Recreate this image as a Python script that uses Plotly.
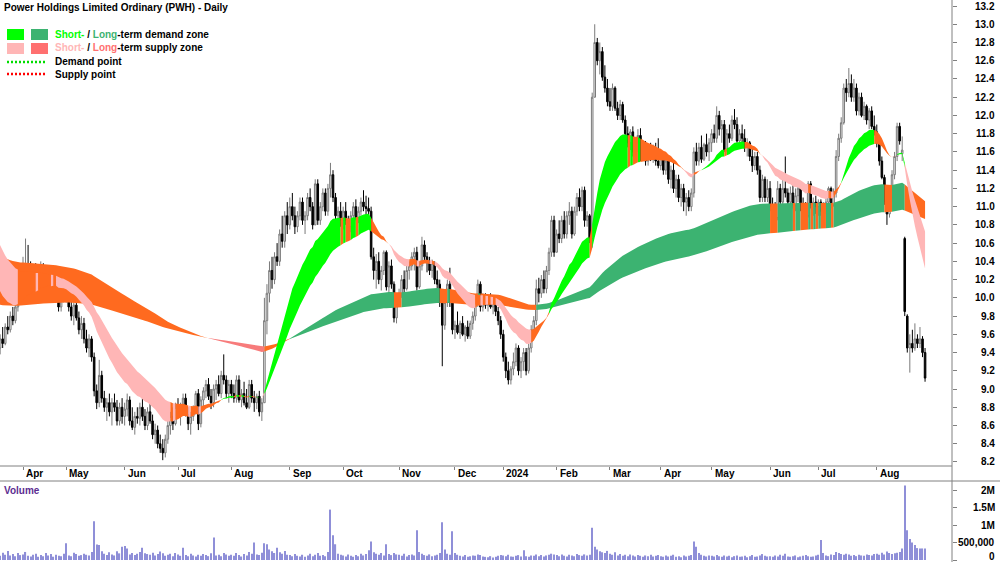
import numpy as np
import pandas as pd
import plotly.graph_objects as go

# ---------------- data ----------------
holidays = ["2023-04-07", "2023-04-10", "2023-04-25", "2023-06-12", "2023-12-25", "2023-12-26",
            "2024-01-01", "2024-01-26", "2024-03-29", "2024-04-01", "2024-04-25", "2024-06-10"]
dates = pd.bdate_range("2023-03-20", "2024-08-28", freq="C", holidays=holidays)

open_ = (
    [9.55, 9.45, 9.55, 9.50, 9.68, 9.65, 9.80, 9.75, 9.90, 10.05] +
    [10.00, 10.30, 10.36, 10.25, 10.15, 10.30, 10.05, 10.25, 10.35, 10.15, 10.20, 10.28, 10.05, 10.18, 10.12, 9.90, 10.05] +
    [10.10, 10.00, 9.90, 9.80, 9.92, 9.78, 9.65, 9.72, 9.55, 9.45, 9.55, 9.35, 8.98, 8.85, 9.15, 8.90, 8.80, 8.85, 8.75, 8.85, 8.80, 8.65, 8.80] +
    [8.70, 8.78, 8.88, 8.65, 8.58, 8.70, 8.68, 8.80, 8.70, 8.60, 8.75, 8.65, 8.50, 8.55, 8.40, 8.35, 8.30, 8.45, 8.60, 8.70, 8.62] +
    [8.80, 8.75, 8.82, 8.90, 8.72, 8.62, 8.70, 8.78, 8.95, 8.62, 8.88, 8.98, 9.05, 8.92, 8.85, 9.00, 9.05, 8.95, 9.15, 9.10, 8.95] +
    [9.05, 8.95, 8.90, 9.10, 8.88, 8.95, 8.85, 8.80, 9.05, 8.90, 8.85, 8.92, 8.75, 8.85, 9.75, 10.05, 10.30, 10.20, 10.45, 10.40, 10.70, 10.62, 10.90] +
    [10.80, 11.00, 10.90, 10.78, 10.90, 11.05, 10.85, 10.90, 11.10, 11.00, 10.80, 11.25, 10.85, 11.00, 11.15, 10.95, 11.20, 11.35, 11.10, 10.90, 10.95] +
    [10.85, 10.95, 10.85, 10.78, 10.90, 11.00, 10.88, 10.95, 11.05, 11.00, 10.98, 10.95, 10.45, 10.30, 10.40, 10.20, 10.30, 10.50, 10.12, 10.35, 10.15, 9.78] +
    [9.98, 10.05, 10.20, 10.10, 10.30, 10.35, 10.45, 10.50, 10.12, 10.35, 10.58, 10.45, 10.40, 10.30, 10.38, 10.20, 10.15, 9.95, 9.70, 9.95, 10.15, 9.95] +
    [9.65, 9.70, 9.62, 9.72, 9.60, 9.68, 9.58, 9.72, 9.80, 9.95, 10.15, 9.90, 10.00, 9.92, 9.98, 9.90, 9.95, 9.85, 9.75] +
    [9.60, 9.35, 9.20, 9.10, 9.22, 9.30, 9.45, 9.20, 9.30, 9.40, 9.20, 9.45, 9.65, 9.75, 10.10, 10.05, 10.20, 10.10, 10.30, 10.50, 10.85] +
    [10.50, 10.70, 10.65, 10.85, 10.70, 10.90, 10.95, 10.70, 10.95, 11.10, 11.00, 11.18, 10.85, 10.90, 10.65, 12.20, 12.80, 12.60, 12.70, 12.42, 12.30] +
    [12.15, 12.10, 12.30, 12.08, 12.00, 12.12, 11.95, 11.80, 11.70, 11.82, 11.60, 11.70, 11.78, 11.55, 11.65, 11.50, 11.60, 11.55, 11.62, 11.50] +
    [11.45, 11.55, 11.40, 11.50, 11.30, 11.40, 11.20, 11.30, 11.10, 11.20, 11.05, 11.10, 11.00, 11.15, 11.60, 11.50, 11.65, 11.52, 11.68, 11.60] +
    [11.70, 11.80, 11.75, 12.00, 11.85, 11.90, 11.62, 11.80, 11.75, 11.95, 11.90, 11.72, 11.80, 11.75, 11.65, 11.70, 11.55, 11.45, 11.55, 11.40, 11.10, 11.30, 11.10] +
    [11.20, 11.00, 10.90, 10.88, 11.20, 11.05, 11.20, 11.15, 11.05, 11.15, 11.02, 11.12, 11.20, 11.00, 10.95, 10.90, 11.25, 11.02, 11.05] +
    [11.00, 11.05, 10.95, 11.00, 11.05, 11.20, 11.02, 11.15, 11.55, 11.75, 11.92, 12.30, 12.25, 12.35, 12.20, 12.30, 12.05, 12.20, 12.00, 12.10, 11.95, 12.05, 11.88] +
    [11.82, 11.70, 11.50, 11.32, 11.05, 10.92, 11.10, 11.35, 11.55, 11.88, 11.58, 10.65, 9.80, 9.45, 9.50, 9.45, 9.55, 9.50, 9.55, 9.40]
)
high = (
    [9.70, 9.60, 9.68, 9.72, 9.80, 9.85, 9.90, 9.95, 10.10, 10.20] +
    [10.45, 10.65, 10.58, 10.40, 10.35, 10.38, 10.30, 10.40, 10.38, 10.28, 10.32, 10.30, 10.22, 10.30, 10.20, 10.10, 10.15] +
    [10.20, 10.12, 10.10, 9.95, 10.00, 9.85, 9.80, 9.78, 9.65, 9.60, 9.58, 9.40, 9.05, 9.32, 9.20, 8.98, 8.90, 8.95, 8.90, 8.95, 8.88, 8.85, 8.90] +
    [8.85, 8.95, 8.92, 8.80, 8.75, 8.80, 8.85, 8.90, 8.78, 8.80, 8.85, 8.72, 8.62, 8.60, 8.50, 8.45, 8.50, 8.65, 8.75, 8.80, 8.85] +
    [8.90, 8.85, 8.95, 8.95, 8.80, 8.75, 8.82, 8.98, 9.00, 8.92, 9.02, 9.10, 9.12, 9.00, 9.05, 9.10, 9.15, 9.20, 9.38, 9.15, 9.10] +
    [9.10, 9.05, 9.15, 9.15, 9.00, 9.08, 9.00, 9.10, 9.10, 8.98, 8.95, 8.98, 8.90, 10.00, 10.15, 10.40, 10.45, 10.50, 10.60, 10.75, 10.90, 10.95, 11.05] +
    [11.10, 11.15, 11.00, 10.95, 11.10, 11.10, 10.95, 11.15, 11.20, 11.05, 11.30, 11.30, 11.05, 11.20, 11.20, 11.25, 11.48, 11.40, 11.15, 11.00, 11.05] +
    [11.00, 11.05, 10.90, 10.95, 11.05, 11.08, 11.00, 11.10, 11.18, 11.12, 11.10, 11.00, 10.55, 10.48, 10.50, 10.35, 10.52, 10.52, 10.40, 10.42, 10.18, 10.05] +
    [10.10, 10.25, 10.30, 10.35, 10.40, 10.50, 10.55, 10.56, 10.40, 10.67, 10.63, 10.50, 10.45, 10.42, 10.40, 10.30, 10.20, 10.00, 10.05, 10.20, 10.33, 10.05] +
    [9.75, 9.85, 9.75, 9.80, 9.70, 9.75, 9.75, 9.85, 10.00, 10.20, 10.18, 10.05, 10.05, 10.02, 10.05, 10.00, 10.00, 9.90, 9.80] +
    [9.65, 9.40, 9.30, 9.25, 9.40, 9.50, 9.48, 9.35, 9.45, 9.45, 9.50, 9.70, 9.80, 10.20, 10.22, 10.25, 10.30, 10.35, 10.55, 10.90, 10.90] +
    [10.75, 10.85, 10.90, 10.95, 10.95, 11.05, 11.00, 11.00, 11.15, 11.20, 11.22, 11.22, 10.95, 10.92, 12.25, 13.00, 12.85, 12.80, 12.75, 12.55, 12.40] +
    [12.30, 12.35, 12.32, 12.15, 12.17, 12.15, 12.00, 11.88, 11.85, 11.88, 11.75, 11.85, 11.86, 11.70, 11.72, 11.65, 11.70, 11.68, 11.70, 11.75] +
    [11.60, 11.58, 11.55, 11.55, 11.45, 11.50, 11.35, 11.35, 11.25, 11.25, 11.15, 11.18, 11.20, 11.65, 11.70, 11.70, 11.78, 11.70, 11.80, 11.75] +
    [11.85, 11.90, 12.10, 12.05, 11.95, 11.95, 11.85, 11.90, 12.00, 12.07, 11.98, 11.85, 11.90, 11.85, 11.75, 11.72, 11.65, 11.60, 11.60, 11.45, 11.35, 11.33, 11.30] +
    [11.28, 11.10, 11.05, 11.28, 11.25, 11.30, 11.55, 11.20, 11.22, 11.25, 11.20, 11.28, 11.25, 11.10, 11.05, 11.28, 11.28, 11.10, 11.12] +
    [11.08, 11.08, 11.05, 11.10, 11.22, 11.22, 11.20, 11.62, 11.80, 11.98, 12.35, 12.40, 12.52, 12.45, 12.40, 12.35, 12.25, 12.25, 12.15, 12.12, 12.08, 12.10, 12.00] +
    [11.90, 11.72, 11.55, 11.35, 11.10, 11.15, 11.40, 11.60, 11.92, 11.92, 11.77, 10.67, 9.82, 9.60, 9.65, 9.72, 9.60, 9.68, 9.58, 9.45]
)
low = (
    [9.40, 9.38, 9.45, 9.48, 9.60, 9.62, 9.70, 9.72, 9.85, 9.95] +
    [9.95, 10.25, 10.20, 10.10, 10.05, 10.00, 10.00, 10.20, 10.10, 10.05, 10.12, 10.00, 9.98, 10.10, 9.85, 9.85, 9.95] +
    [9.95, 9.85, 9.75, 9.70, 9.75, 9.60, 9.55, 9.50, 9.40, 9.35, 9.30, 8.92, 8.78, 8.80, 8.85, 8.75, 8.65, 8.70, 8.60, 8.75, 8.60, 8.60, 8.62] +
    [8.60, 8.70, 8.60, 8.55, 8.50, 8.62, 8.60, 8.65, 8.55, 8.55, 8.62, 8.45, 8.40, 8.35, 8.30, 8.22, 8.25, 8.40, 8.50, 8.55, 8.60] +
    [8.70, 8.60, 8.75, 8.70, 8.55, 8.50, 8.65, 8.72, 8.55, 8.58, 8.78, 8.90, 8.88, 8.78, 8.80, 8.88, 8.92, 8.90, 9.05, 8.90, 8.85] +
    [8.90, 8.85, 8.85, 8.85, 8.80, 8.82, 8.78, 8.78, 8.85, 8.75, 8.78, 8.70, 8.65, 8.85, 9.60, 9.95, 10.10, 10.15, 10.35, 10.35, 10.55, 10.55, 10.70] +
    [10.75, 10.85, 10.70, 10.72, 10.85, 10.80, 10.70, 10.85, 10.95, 10.75, 10.80, 10.80, 10.80, 10.95, 10.90, 10.90, 11.10, 11.05, 10.85, 10.80, 10.78] +
    [10.75, 10.80, 10.72, 10.72, 10.85, 10.85, 10.82, 10.90, 10.95, 10.90, 10.85, 10.42, 10.20, 10.10, 10.15, 10.08, 10.25, 10.08, 10.05, 10.10, 9.73, 9.72] +
    [9.90, 10.00, 10.05, 10.08, 10.20, 10.30, 10.30, 10.08, 10.10, 10.30, 10.40, 10.28, 10.25, 10.22, 10.15, 10.10, 9.90, 9.25, 9.65, 9.90, 9.90, 9.60] +
    [9.55, 9.60, 9.55, 9.58, 9.52, 9.55, 9.55, 9.65, 9.75, 9.90, 9.85, 9.85, 9.88, 9.85, 9.88, 9.82, 9.80, 9.70, 9.55] +
    [9.30, 9.12, 9.05, 9.05, 9.15, 9.25, 9.15, 9.12, 9.20, 9.15, 9.17, 9.40, 9.55, 9.70, 9.95, 10.00, 10.05, 10.05, 10.25, 10.45, 10.45] +
    [10.50, 10.60, 10.60, 10.65, 10.65, 10.80, 10.65, 10.68, 10.90, 10.95, 10.95, 10.78, 10.78, 10.60, 10.55, 12.20, 12.55, 12.45, 12.38, 12.25, 12.10] +
    [12.05, 12.05, 12.05, 11.95, 11.95, 11.92, 11.75, 11.65, 11.62, 11.55, 11.50, 11.60, 11.50, 11.50, 11.45, 11.45, 11.50, 11.48, 11.45, 11.42] +
    [11.40, 11.35, 11.35, 11.25, 11.20, 11.15, 11.10, 11.05, 11.00, 10.95, 10.90, 10.95, 10.95, 11.10, 11.45, 11.45, 11.48, 11.50, 11.55, 11.50] +
    [11.60, 11.70, 11.70, 11.78, 11.70, 11.60, 11.60, 11.70, 11.72, 11.85, 11.70, 11.65, 11.70, 11.60, 11.55, 11.50, 11.38, 11.40, 11.35, 11.05, 11.05, 11.05, 11.05] +
    [10.95, 10.85, 10.82, 10.85, 11.00, 11.00, 11.10, 11.00, 11.00, 10.98, 10.95, 11.05, 10.95, 10.85, 10.78, 10.88, 10.98, 10.90, 10.92] +
    [10.90, 10.90, 10.88, 10.92, 11.00, 10.98, 11.00, 11.10, 11.50, 11.70, 11.90, 12.15, 12.20, 12.15, 12.15, 12.00, 12.00, 11.98, 11.95, 11.90, 11.85, 11.85, 11.78] +
    [11.65, 11.45, 11.30, 11.02, 10.80, 10.88, 11.05, 11.30, 11.50, 11.68, 11.50, 9.80, 9.40, 9.18, 9.40, 9.42, 9.45, 9.45, 9.35, 9.08]
)
close = (
    [9.45, 9.55, 9.50, 9.68, 9.65, 9.80, 9.75, 9.90, 10.05, 10.00] +
    [10.30, 10.36, 10.25, 10.15, 10.30, 10.05, 10.25, 10.35, 10.15, 10.20, 10.28, 10.05, 10.18, 10.12, 9.90, 10.05, 10.10] +
    [10.00, 9.90, 9.80, 9.92, 9.78, 9.65, 9.72, 9.55, 9.45, 9.55, 9.35, 8.98, 8.85, 9.15, 8.90, 8.80, 8.85, 8.75, 8.85, 8.80, 8.65, 8.80, 8.70] +
    [8.78, 8.88, 8.65, 8.58, 8.70, 8.68, 8.80, 8.70, 8.60, 8.75, 8.65, 8.50, 8.55, 8.40, 8.35, 8.30, 8.45, 8.60, 8.70, 8.62, 8.80] +
    [8.75, 8.82, 8.90, 8.72, 8.62, 8.70, 8.78, 8.95, 8.62, 8.88, 8.98, 9.05, 8.92, 8.85, 9.00, 9.05, 8.95, 9.15, 9.10, 8.95, 9.05] +
    [8.95, 8.90, 9.10, 8.88, 8.95, 8.85, 8.80, 9.05, 8.90, 8.85, 8.92, 8.75, 8.85, 9.75, 10.05, 10.30, 10.20, 10.45, 10.40, 10.70, 10.62, 10.90, 10.80] +
    [11.00, 10.90, 10.78, 10.90, 11.05, 10.85, 10.90, 11.10, 11.00, 10.80, 11.25, 10.85, 11.00, 11.15, 10.95, 11.20, 11.35, 11.10, 10.90, 10.95, 10.85] +
    [10.95, 10.85, 10.78, 10.90, 11.00, 10.88, 10.95, 11.05, 11.00, 10.98, 10.95, 10.45, 10.30, 10.40, 10.20, 10.30, 10.50, 10.12, 10.35, 10.15, 9.78, 9.98] +
    [10.05, 10.20, 10.10, 10.30, 10.35, 10.45, 10.50, 10.12, 10.35, 10.58, 10.45, 10.40, 10.30, 10.38, 10.20, 10.15, 9.95, 9.70, 9.95, 10.15, 9.95, 9.65] +
    [9.70, 9.62, 9.72, 9.60, 9.68, 9.58, 9.72, 9.80, 9.95, 10.15, 9.90, 10.00, 9.92, 9.98, 9.90, 9.95, 9.85, 9.75, 9.60] +
    [9.35, 9.20, 9.10, 9.22, 9.30, 9.45, 9.20, 9.30, 9.40, 9.20, 9.45, 9.65, 9.75, 10.10, 10.05, 10.20, 10.10, 10.30, 10.50, 10.85, 10.50] +
    [10.70, 10.65, 10.85, 10.70, 10.90, 10.95, 10.70, 10.95, 11.10, 11.00, 11.18, 10.85, 10.90, 10.65, 12.20, 12.80, 12.60, 12.70, 12.42, 12.30, 12.15] +
    [12.10, 12.30, 12.08, 12.00, 12.12, 11.95, 11.80, 11.70, 11.82, 11.60, 11.70, 11.78, 11.55, 11.65, 11.50, 11.60, 11.55, 11.62, 11.50, 11.45] +
    [11.55, 11.40, 11.50, 11.30, 11.40, 11.20, 11.30, 11.10, 11.20, 11.05, 11.10, 11.00, 11.15, 11.60, 11.50, 11.65, 11.52, 11.68, 11.60, 11.70] +
    [11.80, 11.75, 12.00, 11.85, 11.90, 11.62, 11.80, 11.75, 11.95, 11.90, 11.72, 11.80, 11.75, 11.65, 11.70, 11.55, 11.45, 11.55, 11.40, 11.10, 11.30, 11.10, 11.20] +
    [11.00, 10.90, 10.88, 11.20, 11.05, 11.20, 11.15, 11.05, 11.15, 11.02, 11.12, 11.20, 11.00, 10.95, 10.90, 11.25, 11.02, 11.05, 11.00] +
    [11.05, 10.95, 11.00, 11.05, 11.20, 11.02, 11.15, 11.55, 11.75, 11.92, 12.30, 12.25, 12.35, 12.20, 12.30, 12.05, 12.20, 12.00, 12.10, 11.95, 12.05, 11.88, 11.82] +
    [11.70, 11.50, 11.32, 11.05, 10.92, 11.10, 11.35, 11.55, 11.88, 11.72, 11.62, 9.85, 9.45, 9.50, 9.45, 9.55, 9.50, 9.55, 9.40, 9.12]
)
volume_k = (
    [180, 120, 210, 150, 260, 130, 170, 110, 200, 140] +
    [160, 230, 120, 100, 150, 180, 90, 140, 110, 200, 130, 170, 95, 150, 120, 110, 180] +
    [480, 130, 110, 210, 170, 120, 140, 180, 150, 130, 230, 1110, 440, 430, 250, 180, 140, 220, 160, 130, 250, 190, 380] +
    [400, 330, 160, 200, 140, 180, 230, 350, 190, 170, 150, 210, 130, 170, 240, 190, 120, 150, 180, 110, 200] +
    [160, 120, 350, 140, 110, 180, 130, 100, 150, 120, 170, 140, 110, 190, 640, 130, 150, 110, 200, 160, 120] +
    [150, 120, 200, 140, 100, 170, 130, 230, 180, 500, 160, 140, 210, 480, 450, 300, 250, 200, 350, 220, 180, 260, 150] +
    [140, 110, 170, 120, 100, 150, 90, 130, 180, 110, 150, 200, 120, 140, 110, 230, 1440, 710, 450, 180, 150] +
    [130, 100, 160, 120, 90, 140, 110, 180, 130, 170, 280, 530, 220, 180, 150, 200, 130, 450, 170, 140, 200, 160] +
    [150, 120, 180, 100, 140, 160, 130, 850, 230, 180, 140, 120, 160, 110, 130, 150, 200, 1080, 300, 180, 150, 820] +
    [200, 150, 120, 100, 140, 90, 110, 130, 120, 160, 140, 100, 90, 80, 110, 70, 90, 120, 140] +
    [130, 110, 150, 100, 90, 120, 140, 100, 280, 110, 90, 130, 120, 160, 110, 140, 100, 130, 150, 180, 160] +
    [140, 110, 160, 120, 100, 150, 130, 110, 170, 140, 120, 160, 130, 150, 920, 380, 300, 250, 220, 200, 260] +
    [180, 150, 220, 130, 170, 120, 150, 110, 160, 130, 100, 140, 120, 90, 130, 110, 150, 100, 120, 140] +
    [110, 90, 130, 100, 120, 150, 90, 110, 80, 130, 100, 120, 140, 530, 380, 200, 150, 120, 100, 130] +
    [120, 100, 140, 110, 90, 130, 100, 120, 80, 110, 130, 90, 100, 120, 80, 110, 140, 90, 100, 130, 170, 120, 100] +
    [110, 90, 130, 100, 150, 120, 180, 100, 90, 110, 130, 80, 100, 120, 140, 110, 90, 100, 130] +
    [150, 575, 200, 130, 110, 160, 140, 230, 200, 170, 150, 180, 160, 120, 140, 110, 150, 130, 120, 160, 140, 130, 170] +
    [180, 150, 210, 160, 240, 200, 170, 190, 210, 230, 330, 2130, 850, 600, 500, 430, 340, 330, 330, 330]
)

lens = [len(open_), len(high), len(low), len(close), len(volume_k), len(dates)]
if len(set(lens)) != 1:
    raise SystemExit("length mismatch: %s" % lens)

N = len(close)
x = np.arange(N)
closes = np.array(close)
volume = np.array(volume_k) * 1000

# zone lines (moving averages of the closes)
def ema(vals, period, seed):
    a = 2.0 / (period + 1)
    e = seed
    out = []
    for v in vals:
        e += a * (v - e)
        out.append(e)
    return np.array(out)

short_fast = ema(closes, 20, 10.20)
short_slow = ema(closes, 35, 10.70)
long_fast = ema(closes, 150, 10.48)
long_slow = ema(closes, 250, 9.93)

C_SHORT_DEM = "#00ff00"
C_LONG_DEM = "#3cb371"
C_SHORT_SUP = "#ffb6b6"
C_LONG_SUP = "#f77b7b"
C_MIX = "#ff6a1f"

fig = go.Figure()


def add_band(fast, slow, dem, sup, mix):
    top = np.maximum(fast, slow)
    bot = np.minimum(fast, slow)
    cols = []
    for i in range(N):
        if fast[i] > slow[i] and closes[i] > top[i]:
            cols.append(dem)
        elif fast[i] < slow[i] and closes[i] < bot[i]:
            cols.append(sup)
        else:
            cols.append(mix)
    start = 0
    for i in range(1, N + 1):
        if i == N or cols[i] != cols[start]:
            end = min(i, N - 1)
            xs = list(range(start, end + 1)) + list(range(end, start - 1, -1))
            ys = list(top[start:end + 1]) + list(bot[start:end + 1][::-1])
            fig.add_trace(go.Scatter(x=xs, y=ys, fill="toself", fillcolor=cols[start],
                                     line=dict(width=0, color=cols[start]), mode="lines",
                                     hoverinfo="skip", showlegend=False,
                                     xaxis="x", yaxis="y"))
            start = i


add_band(long_fast, long_slow, C_LONG_DEM, C_LONG_SUP, C_MIX)
add_band(short_fast, short_slow, C_SHORT_DEM, C_SHORT_SUP, C_MIX)

fig.add_trace(go.Candlestick(
    x=x, open=open_, high=high, low=low, close=close,
    increasing=dict(line=dict(color="#7a7a7a", width=1), fillcolor="#f2f2f2"),
    decreasing=dict(line=dict(color="#000000", width=1), fillcolor="#000000"),
    whiskerwidth=0, showlegend=False, hoverinfo="skip", xaxis="x", yaxis="y"))

fig.add_trace(go.Bar(x=x, y=volume, marker=dict(color="#8f8fd8", line=dict(width=0)),
                     width=0.45, showlegend=False, hoverinfo="skip", xaxis="x", yaxis="y2"))

# ---------------- axes / layout ----------------
W, H = 1000, 562
PX = lambda v: v / W
PY = lambda v: 1 - v / H

month_idx = [i for i in range(1, N) if dates[i].month != dates[i - 1].month]
month_lab = [str(dates[i].year) if dates[i].month == 1 else dates[i].strftime("%b") for i in month_idx]

price_ticks = [round(8.2 + 0.2 * k, 1) for k in range(26)]
vol_ticks = [0, 500000, 1000000, 1500000, 2000000]
vol_text = ["0", "500,000", "1M", "1.5M", "2M"]

FONT = "Arial, Liberation Sans, sans-serif"
annotations = []
for v in price_ticks:
    annotations.append(dict(x=0.997, xref="paper", y=v, yref="y", text="<b>%.1f</b>" % v,
                            showarrow=False, xanchor="right", yanchor="middle",
                            font=dict(family=FONT, size=10, color="black")))
for v, t in zip(vol_ticks, vol_text):
    annotations.append(dict(x=0.997, xref="paper", y=v, yref="y2", text="<b>%s</b>" % t,
                            showarrow=False, xanchor="right",
                            yanchor="bottom" if v == 0 else "middle",
                            yshift=-4 if v == 0 else 0,
                            font=dict(family=FONT, size=10, color="black")))
for i, t in zip(month_idx, month_lab):
    annotations.append(dict(x=i, xref="x", y=PY(474), yref="paper", text="<b>%s</b>" % t,
                            showarrow=False, xanchor="left", yanchor="middle", xshift=1,
                            font=dict(family=FONT, size=10, color="black")))

annotations.append(dict(x=PX(2), xref="paper", y=PY(8), yref="paper",
                        text="<b>Power Holdings Limited Ordinary (PWH) - Daily</b>",
                        showarrow=False, xanchor="left", yanchor="middle",
                        font=dict(family=FONT, size=10, color="black")))
annotations.append(dict(x=PX(2), xref="paper", y=PY(490), yref="paper", text="<b>Volume</b>",
                        showarrow=False, xanchor="left", yanchor="middle",
                        font=dict(family=FONT, size=10, color="#5c2d91")))
legend_rows = [
    (34, '<b><span style="color:%s">Short-</span> / <span style="color:%s">Long</span>-term demand zone</b>' % (C_SHORT_DEM, C_LONG_DEM)),
    (48, '<b><span style="color:%s">Short-</span> / <span style="color:#ff7070">Long</span>-term supply zone</b>' % C_SHORT_SUP),
    (62, "<b>Demand point</b>"),
    (74, "<b>Supply point</b>"),
]
for yy, t in legend_rows:
    annotations.append(dict(x=PX(53), xref="paper", y=PY(yy), yref="paper", text=t,
                            showarrow=False, xanchor="left", yanchor="middle",
                            font=dict(family=FONT, size=10, color="black")))

shapes = [
    dict(type="rect", xref="paper", yref="paper", x0=PX(7), x1=PX(24), y0=PY(40), y1=PY(29),
         fillcolor=C_SHORT_DEM, line=dict(width=0)),
    dict(type="rect", xref="paper", yref="paper", x0=PX(31), x1=PX(48), y0=PY(40), y1=PY(29),
         fillcolor=C_LONG_DEM, line=dict(width=0)),
    dict(type="rect", xref="paper", yref="paper", x0=PX(7), x1=PX(24), y0=PY(54), y1=PY(43),
         fillcolor=C_SHORT_SUP, line=dict(width=0)),
    dict(type="rect", xref="paper", yref="paper", x0=PX(31), x1=PX(48), y0=PY(54), y1=PY(43),
         fillcolor="#ff7070", line=dict(width=0)),
    dict(type="line", xref="paper", yref="paper", x0=PX(7), x1=PX(47), y0=PY(62), y1=PY(62),
         line=dict(color="#00dd00", width=2.5, dash="2px,2px")),
    dict(type="line", xref="paper", yref="paper", x0=PX(7), x1=PX(47), y0=PY(74), y1=PY(74),
         line=dict(color="#ff0000", width=2.5, dash="2px,2px")),
    # panel frame lines
    dict(type="line", xref="paper", yref="paper", x0=0.952, x1=0.952, y0=0, y1=1,
         line=dict(color="#808080", width=1)),
    dict(type="line", xref="paper", yref="paper", x0=0, x1=0.952, y0=PY(466), y1=PY(466),
         line=dict(color="#808080", width=1)),
    dict(type="line", xref="paper", yref="paper", x0=0, x1=1, y0=PY(481), y1=PY(481),
         line=dict(color="#808080", width=1)),
]

fig.update_layout(
    width=W, height=H, margin=dict(l=0, r=0, t=0, b=0),
    paper_bgcolor="white", plot_bgcolor="white", hovermode=False,
    showlegend=False, annotations=annotations, shapes=shapes, boxgap=0.12,
    xaxis=dict(domain=[0, 0.952], range=[0.95, 375.6], showgrid=False, zeroline=False,
               showline=False, tickvals=month_idx, ticks="outside", ticklen=3,
               tickcolor="#808080", showticklabels=False, anchor="y",
               rangeslider=dict(visible=False), fixedrange=True),
    yaxis=dict(domain=[PY(466), 1], range=[8.156, 13.266], side="right", showgrid=False,
               zeroline=False, showline=False, tickvals=price_ticks, ticks="outside",
               ticklen=4, tickcolor="#808080", showticklabels=False, anchor="x"),
    yaxis2=dict(domain=[0, PY(481)], range=[-57000, 2257000], side="right", showgrid=False,
                zeroline=False, showline=False, tickvals=vol_ticks, ticks="outside",
                ticklen=4, tickcolor="#808080", showticklabels=False, anchor="x"),
)

fig.write_html("out.html")
